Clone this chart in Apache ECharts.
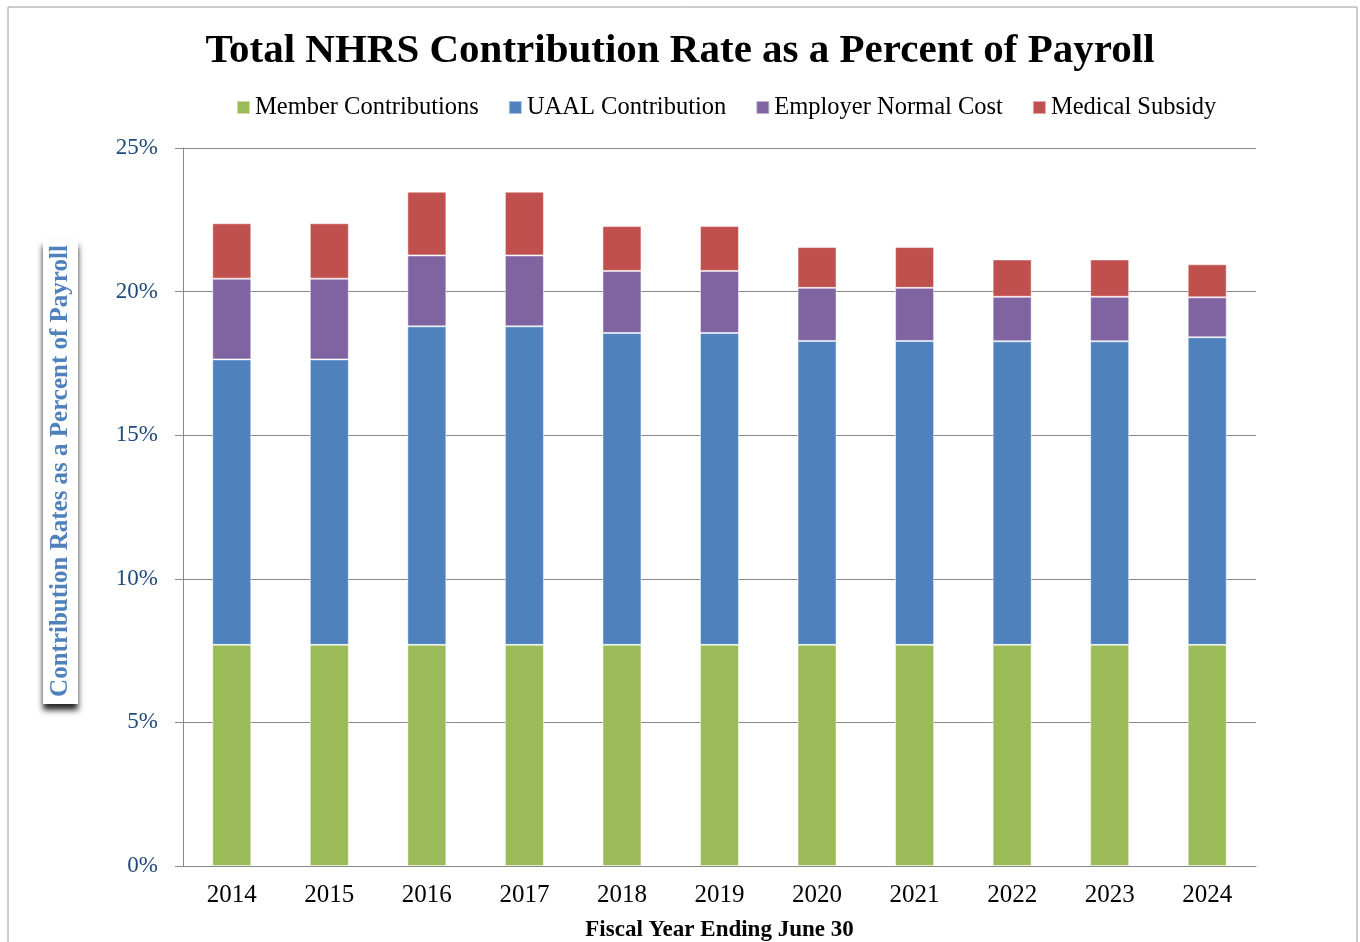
<!DOCTYPE html>
<html>
<head>
<meta charset="utf-8">
<script src="https://cdn.jsdelivr.net/npm/echarts@6/dist/echarts.min.js"></script>
<style>
  html, body { margin: 0; padding: 0; background: #fff; }
  #main { width: 1360px; height: 942px; }
</style>
</head>
<body>
<div id="main"></div>
<script>
var years = ['2014', '2015', '2016', '2017', '2018', '2019', '2020', '2021', '2022', '2023', '2024'];
var memberContrib = [7.7, 7.7, 7.7, 7.7, 7.7, 7.7, 7.7, 7.7, 7.7, 7.7, 7.7];
var uaalContrib = [9.94, 9.94, 11.09, 11.09, 10.86, 10.86, 10.58, 10.58, 10.57, 10.57, 10.71];
var employerNormal = [2.81, 2.81, 2.47, 2.47, 2.16, 2.16, 1.85, 1.85, 1.55, 1.55, 1.39];
var medicalSubsidy = [1.93, 1.93, 2.22, 2.22, 1.56, 1.56, 1.42, 1.42, 1.30, 1.30, 1.15];

var serif = '"Liberation Serif", "DejaVu Serif", serif';

function bar(name, data, color) {
  return {
    name: name,
    type: 'bar',
    stack: 'total',
    barWidth: '40%',
    data: data,
    itemStyle: { color: color, borderColor: 'rgba(255,255,255,0.5)', borderWidth: 1 }
  };
}

var myChart = echarts.init(document.getElementById('main'));
myChart.setOption({
  animation: false,
  title: {
    text: 'Total NHRS Contribution Rate as a Percent of Payroll',
    left: 'center',
    top: 26,
    textStyle: { fontFamily: serif, fontSize: 41, fontWeight: 'bold', color: '#000' }
  },
  legend: {
    top: 90,
    left: 231,
    itemWidth: 13,
    itemHeight: 13,
    itemGap: 29,
    icon: 'rect',
    textStyle: { fontFamily: serif, fontSize: 24.5, color: '#000' },
    data: ['Member Contributions', 'UAAL Contribution', 'Employer Normal Cost', 'Medical Subsidy']
  },
  grid: { left: 183, right: 104, top: 148, bottom: 76, outerBoundsMode: 'none', containLabel: false },
  xAxis: {
    type: 'category',
    data: years,
    name: 'Fiscal Year Ending June 30',
    nameLocation: 'middle',
    nameGap: 53,
    nameTextStyle: { fontFamily: serif, fontSize: 23, fontWeight: 'bold', color: '#000' },
    axisLine: { lineStyle: { color: '#888', width: 1 } },
    axisTick: { show: false },
    axisLabel: { fontFamily: serif, fontSize: 25, color: '#000', margin: 17 }
  },
  yAxis: {
    type: 'value',
    min: 0,
    max: 25,
    interval: 5,
    axisLine: { show: true, lineStyle: { color: '#888', width: 1 } },
    axisTick: { show: true, length: 8, lineStyle: { color: '#888' } },
    splitLine: { lineStyle: { color: '#888', width: 1 } },
    axisLabel: { fontFamily: serif, fontSize: 23, color: '#1F497D', margin: 25, formatter: '{value}%' }
  },
  graphic: [
    {
      type: 'rect',
      shape: { x: 8, y: 7, width: 1349, height: 960 },
      style: { fill: 'none', stroke: '#9a9a9a', lineWidth: 1 },
      silent: true
    },
    {
      type: 'rect',
      shape: { x: 43, y: 240, width: 35, height: 464 },
      style: { fill: '#fff', shadowBlur: 6, shadowColor: 'rgba(0,0,0,0.85)', shadowOffsetX: 0, shadowOffsetY: 6 },
      silent: true
    },
    {
      type: 'text',
      x: 61,
      y: 471,
      rotation: Math.PI / 2,
      style: {
        text: 'Contribution Rates as a Percent of Payroll',
        fontFamily: serif,
        fontSize: 25,
        fontWeight: 'bold',
        fill: '#4F81BD',
        align: 'center',
        verticalAlign: 'middle'
      },
      silent: true
    }
  ],
  series: [
    bar('Member Contributions', memberContrib, '#9BBB59'),
    bar('UAAL Contribution', uaalContrib, '#4F81BD'),
    bar('Employer Normal Cost', employerNormal, '#8064A2'),
    bar('Medical Subsidy', medicalSubsidy, '#C0504D')
  ]
});
</script>
</body>
</html>
